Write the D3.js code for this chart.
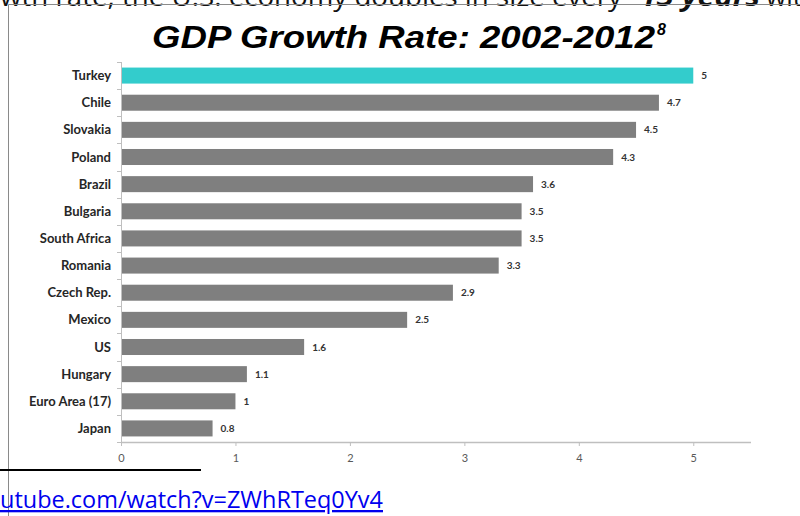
<!DOCTYPE html>
<html>
<head>
<meta charset="utf-8">
<script src="https://cdn.jsdelivr.net/npm/d3@7"></script>
<style>
    body { margin: 0; background: #fff; }
    svg { display: block; }
    .cat-label { font-family: Lato, "Open Sans", sans-serif; font-weight: bold; font-size: 13px; fill: #262626; }
    .val-label { font-family: Lato, "Open Sans", sans-serif; font-weight: bold; font-size: 10px; fill: #333; }
    .x.axis text { font-family: Lato, "Open Sans", sans-serif; font-size: 11px; fill: #595959; }
    .page-text { font-family: "Open Sans", sans-serif; font-size: 26px; fill: #111; }
</style>
</head>
<body>
<div class="bar-chart-container"></div>
<script>
// Data
const countries = ['Turkey', 'Chile', 'Slovakia', 'Poland', 'Brazil', 'Bulgaria', 'South Africa',
    'Romania', 'Czech Rep.', 'Mexico', 'US', 'Hungary', 'Euro Area (17)', 'Japan'];
const growth = [5, 4.7, 4.5, 4.3, 3.6, 3.5, 3.5, 3.3, 2.9, 2.5, 1.6, 1.1, 1, 0.8];
const xTicks = [0, 1, 2, 3, 4, 5];
const highlight = 'Turkey';

const barData = countries.map((c, i) => ({country: c, value: growth[i]}));

// Base
const svg = d3.select('.bar-chart-container')
    .append('svg')
    .attr('width', 800)
    .attr('height', 516);

// Page text around the chart (cropped slide)
svg.append('text')
    .attr('class', 'page-text')
    .attr('x', 0)
    .attr('y', 6)
    .attr('textLength', 622)
    .attr('lengthAdjust', 'spacingAndGlyphs')
    .text('wth rate, the U.S. economy doubles in size every');
svg.append('text')
    .attr('class', 'page-text')
    .attr('x', 640)
    .attr('y', 6)
    .attr('textLength', 120)
    .attr('lengthAdjust', 'spacingAndGlyphs')
    .style('font-weight', 'bold')
    .style('font-style', 'italic')
    .text('13 years');
svg.append('text')
    .attr('class', 'page-text')
    .attr('x', 766)
    .attr('y', 6)
    .text('wit');

// Chart frame
svg.append('line')
    .attr('x1', 8.5).attr('x2', 800)
    .attr('y1', 4.5).attr('y2', 4.5)
    .style('stroke', '#8a8a8a');
svg.append('line')
    .attr('x1', 8.5).attr('x2', 8.5)
    .attr('y1', 4.5).attr('y2', 516)
    .style('stroke', '#8a8a8a');

// Title
svg.append('text')
    .attr('x', 152)
    .attr('y', 48)
    .attr('textLength', 503)
    .attr('lengthAdjust', 'spacingAndGlyphs')
    .style('font-family', '"Liberation Sans", Arial, sans-serif')
    .style('font-weight', 'bold')
    .style('font-style', 'italic')
    .style('font-size', '32px')
    .text('GDP Growth Rate: 2002-2012');
svg.append('text')
    .attr('x', 657)
    .attr('y', 35)
    .style('font-family', '"Liberation Sans", Arial, sans-serif')
    .style('font-weight', 'bold')
    .style('font-style', 'italic')
    .style('font-size', '16px')
    .text('8');

// Scales
const x0 = 121, x1 = 750.5;
const yTop = 62, yBottom = 442;

const xScale = d3.scaleLinear()
    .domain([0, 5.5])
    .range([x0, x1]);

const yScale = d3.scaleBand()
    .domain(countries)
    .range([yTop, yBottom])
    .paddingInner(0.41)
    .paddingOuter(0.205);

const step = yScale.step();

// Bars
svg.selectAll('.bar')
    .data(barData)
    .enter()
    .append('rect')
    .attr('class', 'bar')
    .attr('x', xScale(0))
    .attr('y', d => yScale(d.country))
    .attr('width', d => xScale(d.value) - xScale(0))
    .attr('height', yScale.bandwidth())
    .style('fill', d => d.country === highlight ? '#33CCCC' : '#7f7f7f');

// Value labels
svg.selectAll('.val-label')
    .data(barData)
    .enter()
    .append('text')
    .attr('class', 'val-label')
    .attr('x', d => xScale(d.value) + 8)
    .attr('y', d => yScale(d.country) + yScale.bandwidth() / 2)
    .attr('dy', '0.35em')
    .text(d => d.value);

// Category labels
svg.selectAll('.cat-label')
    .data(barData)
    .enter()
    .append('text')
    .attr('class', 'cat-label')
    .attr('x', x0 - 10)
    .attr('y', d => yScale(d.country) + yScale.bandwidth() / 2)
    .attr('dy', '0.35em')
    .attr('text-anchor', 'end')
    .text(d => d.country);

// Y axis: line + ticks at band boundaries
const boundaries = countries.map(c => yScale(c) - step * yScale.paddingOuter()).concat([yBottom]);
svg.append('line')
    .attr('x1', x0 + 0.5).attr('x2', x0 + 0.5)
    .attr('y1', yTop).attr('y2', yBottom)
    .style('stroke', '#bfbfbf');
svg.selectAll('.y-tick')
    .data(boundaries)
    .enter()
    .append('line')
    .attr('class', 'y-tick')
    .attr('x1', x0 - 4).attr('x2', x0 + 0.5)
    .attr('y1', d => Math.round(d) + 0.5)
    .attr('y2', d => Math.round(d) + 0.5)
    .style('stroke', '#bfbfbf');

// X axis
const xAxis = d3.axisBottom(xScale)
    .tickValues(xTicks)
    .tickFormat(d3.format('d'))
    .tickSizeInner(4)
    .tickSizeOuter(0)
    .tickPadding(8);

const xAxisDraw = svg.append('g')
    .attr('class', 'x axis')
    .attr('transform', `translate(0, ${yBottom})`)
    .call(xAxis);

xAxisDraw.select('.domain').style('stroke', '#bfbfbf').style('stroke-width', 1.5);
xAxisDraw.selectAll('.tick line').style('stroke', '#bfbfbf');

// Footnote rule and link
svg.append('line')
    .attr('x1', 0).attr('x2', 201)
    .attr('y1', 470).attr('y2', 470)
    .style('stroke', '#000')
    .style('stroke-width', 2);

svg.append('text')
    .attr('x', 0)
    .attr('y', 508)
    .attr('textLength', 383)
    .attr('lengthAdjust', 'spacingAndGlyphs')
    .style('font-family', '"Open Sans", sans-serif')
    .style('font-size', '23px')
    .style('fill', '#0000ee')
    .style('text-decoration', 'underline')
    .text('utube.com/watch?v=ZWhRTeq0Yv4');
</script>
</body>
</html>
